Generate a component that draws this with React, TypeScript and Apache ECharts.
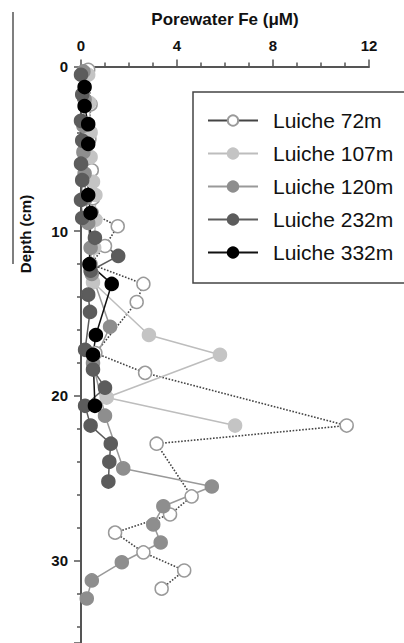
import React, { useEffect, useRef } from "react";
import * as echarts from "echarts";

const FONT = "'Liberation Sans', Arial, Helvetica, sans-serif";

const seriesNames = ["Luiche 72m", "Luiche 107m", "Luiche 120m", "Luiche 232m", "Luiche 332m"];

// [Fe (uM), depth (cm)]
const fe72: number[][] = [
  [0.3, 0.2], [0.4, 2.3], [0.35, 4.4], [0.45, 6.3], [0.5, 8.0], [0.45, 8.9],
  [1.53, 9.7], [1.0, 10.9], [0.4, 12.0], [2.6, 13.2], [2.32, 14.3], [0.6, 17.4],
  [2.67, 18.6], [11.07, 21.8], [3.15, 22.9], [4.61, 26.1], [3.71, 27.2],
  [1.42, 28.3], [2.6, 29.5], [4.3, 30.6], [3.36, 31.7],
];
const fe107: number[][] = [
  [0.3, 0.5], [0.35, 2.2], [0.4, 4.0], [0.4, 5.5], [0.5, 7.0], [0.6, 7.8],
  [0.6, 9.3], [0.55, 11.0], [0.5, 13.1], [2.83, 16.3], [5.79, 17.5],
  [1.07, 20.1], [6.42, 21.8],
];
const fe120: number[][] = [
  [0.1, 0.3], [0.15, 2.0], [0.1, 3.6], [0.1, 5.2], [0.15, 6.5], [0.2, 8.0],
  [0.3, 9.5], [0.4, 11.0], [0.45, 12.6], [1.21, 15.8], [0.5, 18.0], [1.0, 21.2],
  [1.76, 24.4], [5.45, 25.5], [3.43, 26.7], [3.01, 27.8], [3.32, 28.9],
  [1.7, 30.1], [0.45, 31.2], [0.24, 32.3],
];
const fe232: number[][] = [
  [0.0, 0.5], [0.05, 1.7], [0.0, 3.3], [0.05, 4.5], [0.0, 5.9], [0.05, 6.9],
  [0.0, 8.1], [0.05, 9.2], [0.58, 10.4], [1.55, 11.5], [0.4, 12.4], [0.3, 13.85],
  [0.375, 14.9], [0.17, 17.2], [0.5, 18.4], [1.0, 19.5], [0.17, 20.6],
  [0.4, 21.8], [1.24, 22.9], [1.18, 24.0], [1.14, 25.2],
];
const fe332: number[][] = [
  [0.15, 1.25], [0.15, 2.4], [0.3, 3.5], [0.3, 4.7], [0.3, 7.8], [0.4, 8.9],
  [0.35, 12.0], [1.28, 13.2], [0.62, 16.3], [0.5, 17.5], [0.58, 20.6],
];

const xTickValues = [0, 4, 8, 12];
const yTickValues = [0, 10, 20, 30];

export default function App() {
  const ref = useRef<HTMLDivElement>(null);
  useEffect(() => {
    document.body.style.margin = "0";
    const chart = echarts.init(ref.current!, null, { renderer: "svg" });
    const axisColor = "#555";
    const mk = (name: string, data: number[][], fill: string, border: string, lineColor: string, dotted: boolean) => ({
      name,
      type: "line",
      data,
      symbol: "circle",
      symbolSize: 13,
      itemStyle: { color: fill, borderColor: border, borderWidth: 1.5, opacity: 1 },
      lineStyle: { color: lineColor, width: dotted ? 1.6 : 1.5, type: dotted ? "dotted" : "solid" },
      emphasis: { disabled: true },
    });
    chart.setOption({
      animation: false,
      textStyle: { fontFamily: FONT },
      grid: { left: 81, top: 66.5, width: 288, height: 577.5, containLabel: false },
      xAxis: {
        type: "value",
        position: "top",
        min: xTickValues[0],
        max: xTickValues[xTickValues.length - 1],
        interval: 4,
        name: "Porewater Fe (μM)",
        nameLocation: "middle",
        nameGap: 39,
        nameTextStyle: { fontSize: 17, fontWeight: "bold", color: "#111", fontFamily: FONT },
        axisLine: { show: true, onZero: false, lineStyle: { color: axisColor, width: 2 } },
        axisTick: { show: true, length: 7, lineStyle: { color: axisColor, width: 1.5 } },
        minorTick: { show: true, splitNumber: 4, length: 4, lineStyle: { color: axisColor, width: 1.5 } },
        axisLabel: { fontSize: 15, fontWeight: "bold", color: "#111", margin: 14, fontFamily: FONT },
        splitLine: { show: false },
      },
      yAxis: {
        type: "value",
        inverse: true,
        min: yTickValues[0],
        max: 35,
        interval: 10,
        axisLine: { show: true, onZero: false, lineStyle: { color: axisColor, width: 2 } },
        axisTick: { show: true, length: 7, lineStyle: { color: axisColor, width: 1.5 } },
        minorTick: { show: true, splitNumber: 5, length: 4, lineStyle: { color: axisColor, width: 1.5 } },
        axisLabel: {
          fontSize: 15, fontWeight: "bold", color: "#111", margin: 13, fontFamily: FONT,
          formatter: (v: number) => (yTickValues.includes(v) ? String(v) : ""),
        },
        splitLine: { show: false },
      },
      legend: {
        orient: "vertical",
        left: 193,
        top: 92,
        padding: [18, 22, 20, 14],
        itemWidth: 50,
        itemHeight: 13,
        itemGap: 12,
        borderColor: "#444",
        borderWidth: 1.5,
        backgroundColor: "#fff",
        lineStyle: { type: "solid", width: 2 },
        textStyle: { fontSize: 21, lineHeight: 20, color: "#111", fontFamily: FONT, padding: [0, 0, 0, 10] },
        data: seriesNames,
      },
      graphic: [
        {
          type: "line",
          shape: { x1: 13, y1: 12, x2: 13, y2: 264 },
          style: { stroke: "#555", lineWidth: 1.5 },
        },
        {
          type: "text",
          x: 25,
          y: 234,
          rotation: Math.PI / 2,
          style: {
            text: "Depth (cm)",
            fontSize: 15,
            fontWeight: "bold",
            fontFamily: FONT,
            fill: "#111",
            align: "center",
            verticalAlign: "middle",
          },
        },
      ],
      series: [
        mk(seriesNames[0], fe72, "#ffffff", "#9a9a9a", "#444", true),
        mk(seriesNames[1], fe107, "#c4c4c4", "#c4c4c4", "#bdbdbd", false),
        mk(seriesNames[2], fe120, "#8e8e8e", "#8e8e8e", "#999", false),
        mk(seriesNames[3], fe232, "#5c5c5c", "#5c5c5c", "#5c5c5c", false),
        mk(seriesNames[4], fe332, "#000000", "#000000", "#111", false),
      ],
    });
    return () => chart.dispose();
  }, []);
  return <div ref={ref} style={{ width: 404, height: 643 }} />;
}
